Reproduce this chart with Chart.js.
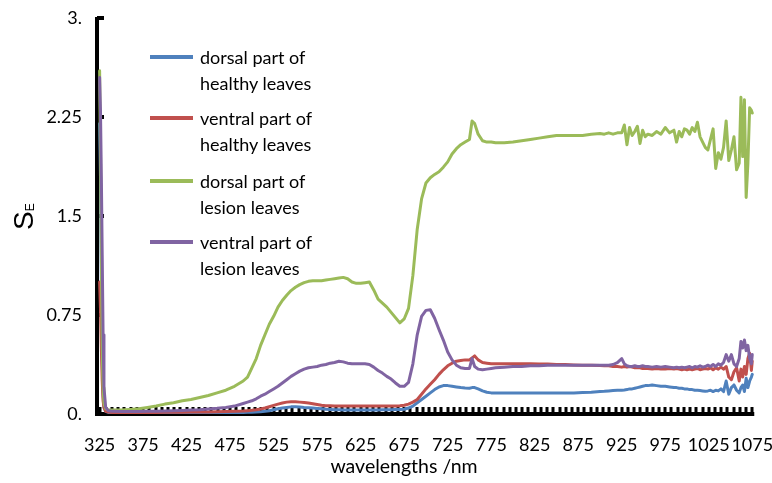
<!DOCTYPE html>
<html>
<head>
<meta charset="utf-8">
<script src="https://cdn.jsdelivr.net/npm/chart.js@4"></script>
<style>
html,body{margin:0;padding:0;background:#fff;}
#wrap{position:relative;width:772px;height:483px;}
#legend{position:absolute;left:0;top:0;font-family:Lato,"Open Sans",sans-serif;font-size:18px;color:#000;}
.li{position:absolute;left:150px;}
.sw{position:absolute;left:0;width:43px;height:4px;}
.tx{position:absolute;left:50px;white-space:nowrap;line-height:26px;}
</style>
</head>
<body>
<div id="wrap">
<canvas id="c" width="772" height="483"></canvas>
<div id="legend"></div>
</div>
<script>
const wavelengths = [325,326,327,328,329,330,332,335,340,350,360,370,380,390,400,410,420,430,440,450,460,470,480,490,495,500,505,510,515,520,525,530,535,540,545,550,555,560,565,570,575,580,585,590,595,600,605,610,615,620,625,630,635,640,645,650,655,660,665,670,675,680,685,690,695,700,705,710,715,720,725,730,735,740,745,750,753,756,760,765,770,775,780,790,800,810,820,830,840,850,860,870,880,890,900,905,910,915,920,925,928,931,934,937,940,943,946,949,952,955,960,965,970,975,980,985,988,991,994,997,1000,1003,1006,1009,1012,1015,1018,1021,1024,1027,1030,1033,1036,1039,1042,1045,1048,1051,1054,1057,1060,1062,1064,1066,1068,1070,1072,1074,1075];

const dorsalHealthy = [2.2,1.8,1.0,0.4,0.15,0.05,0.02,0.012,0.01,0.01,0.01,0.01,0.01,0.01,0.01,0.01,0.01,0.01,0.01,0.01,0.01,0.01,0.011,0.012,0.013,0.014,0.015,0.017,0.02,0.025,0.032,0.04,0.045,0.05,0.054,0.055,0.053,0.05,0.048,0.045,0.042,0.039,0.036,0.035,0.033,0.032,0.031,0.03,0.03,0.03,0.03,0.03,0.03,0.03,0.031,0.032,0.032,0.033,0.034,0.035,0.036,0.045,0.06,0.085,0.11,0.135,0.16,0.185,0.205,0.215,0.215,0.21,0.205,0.2,0.197,0.195,0.2,0.2,0.19,0.175,0.165,0.16,0.16,0.16,0.16,0.16,0.16,0.16,0.16,0.16,0.16,0.16,0.162,0.165,0.17,0.172,0.175,0.178,0.18,0.18,0.182,0.185,0.19,0.19,0.195,0.2,0.205,0.21,0.215,0.215,0.22,0.215,0.21,0.21,0.205,0.2,0.2,0.195,0.195,0.19,0.19,0.185,0.185,0.18,0.18,0.178,0.175,0.172,0.175,0.18,0.17,0.18,0.175,0.19,0.17,0.25,0.15,0.2,0.22,0.18,0.16,0.2,0.22,0.17,0.27,0.2,0.25,0.28,0.3];

const ventralHealthy = [1.0,0.8,0.5,0.25,0.1,0.05,0.02,0.015,0.012,0.012,0.012,0.012,0.012,0.012,0.013,0.013,0.014,0.015,0.015,0.016,0.017,0.018,0.02,0.022,0.025,0.028,0.032,0.038,0.045,0.055,0.065,0.075,0.083,0.09,0.093,0.093,0.09,0.087,0.083,0.078,0.072,0.066,0.063,0.062,0.061,0.06,0.06,0.06,0.06,0.06,0.06,0.06,0.06,0.06,0.06,0.06,0.06,0.06,0.061,0.063,0.066,0.075,0.09,0.11,0.15,0.19,0.225,0.26,0.3,0.335,0.365,0.385,0.4,0.405,0.41,0.41,0.425,0.44,0.41,0.39,0.385,0.38,0.38,0.38,0.38,0.38,0.38,0.378,0.378,0.375,0.375,0.372,0.37,0.37,0.368,0.366,0.365,0.36,0.36,0.355,0.36,0.355,0.36,0.355,0.35,0.35,0.35,0.345,0.345,0.345,0.34,0.345,0.34,0.34,0.345,0.34,0.345,0.34,0.335,0.34,0.335,0.34,0.335,0.34,0.345,0.335,0.34,0.345,0.34,0.35,0.335,0.35,0.34,0.355,0.34,0.36,0.28,0.26,0.32,0.35,0.25,0.34,0.28,0.36,0.3,0.42,0.46,0.33,0.4];

const dorsalLesion = [2.6,2.0,1.2,0.5,0.2,0.08,0.04,0.03,0.03,0.03,0.035,0.04,0.05,0.06,0.075,0.085,0.1,0.11,0.125,0.14,0.16,0.18,0.21,0.25,0.28,0.35,0.42,0.52,0.6,0.68,0.74,0.81,0.86,0.9,0.935,0.96,0.98,0.995,1.005,1.01,1.01,1.01,1.015,1.02,1.025,1.03,1.035,1.025,1.0,0.99,0.99,0.995,1.0,0.94,0.87,0.84,0.81,0.77,0.73,0.69,0.72,0.8,1.05,1.4,1.63,1.75,1.79,1.815,1.835,1.87,1.91,1.97,2.01,2.04,2.06,2.08,2.22,2.2,2.12,2.07,2.06,2.06,2.055,2.055,2.06,2.07,2.08,2.09,2.1,2.11,2.11,2.11,2.11,2.12,2.125,2.12,2.13,2.12,2.13,2.13,2.19,2.04,2.17,2.11,2.14,2.18,2.05,2.15,2.1,2.12,2.11,2.14,2.12,2.17,2.13,2.15,2.06,2.14,2.1,2.16,2.15,2.12,2.17,2.14,2.21,2.1,2.06,2.02,2.0,2.08,2.16,1.86,1.98,1.93,2.02,2.22,1.92,2.0,2.1,1.85,1.9,2.4,1.95,2.38,1.64,1.9,2.32,2.3,2.28];

const ventralLesion = [2.55,2.3,1.8,1.2,0.6,0.2,0.05,0.025,0.02,0.018,0.018,0.018,0.02,0.02,0.022,0.025,0.027,0.03,0.033,0.038,0.043,0.05,0.06,0.08,0.09,0.1,0.115,0.135,0.15,0.17,0.19,0.21,0.235,0.26,0.285,0.305,0.325,0.34,0.35,0.355,0.36,0.37,0.375,0.385,0.39,0.4,0.395,0.385,0.38,0.38,0.38,0.38,0.375,0.355,0.33,0.31,0.285,0.265,0.235,0.21,0.21,0.24,0.38,0.6,0.74,0.785,0.79,0.725,0.64,0.56,0.47,0.41,0.37,0.35,0.345,0.345,0.42,0.36,0.34,0.335,0.34,0.345,0.35,0.355,0.36,0.36,0.365,0.365,0.37,0.37,0.37,0.37,0.37,0.37,0.37,0.37,0.37,0.375,0.39,0.42,0.38,0.365,0.36,0.36,0.365,0.36,0.36,0.365,0.36,0.36,0.355,0.36,0.355,0.36,0.355,0.35,0.355,0.35,0.355,0.35,0.355,0.36,0.35,0.36,0.355,0.365,0.355,0.36,0.37,0.36,0.375,0.36,0.38,0.37,0.39,0.45,0.4,0.45,0.38,0.36,0.42,0.55,0.5,0.56,0.48,0.52,0.42,0.38,0.45];

const seriesNames = [["dorsal part of","healthy leaves"],["ventral part of","healthy leaves"],["dorsal part of","lesion leaves"],["ventral part of","lesion leaves"]];
const seriesColors = ["#4F81BD","#C0504D","#9BBB59","#8064A2"];
const xTickLabels = ["325","375","425","475","525","575","625","675","725","775","825","875","925","975","1025","1075"];
const yTickValues = [0,0.75,1.5,2.25,3];
const yTickLabels = ["0.","0.75","1.5","2.25","3."];
const xTitle = "wavelengths /nm";
const yTitleMain = "S";
const yTitleSub = "E";

const seriesValues = [dorsalHealthy, ventralHealthy, dorsalLesion, ventralLesion];
const drawOrder = [3,2,1,0];
const datasets = seriesValues.map((vals,i)=>({
  label: seriesNames[i].join(' '),
  data: wavelengths.map((w,j)=>({x:w,y:vals[j]})),
  borderColor: seriesColors[i],
  backgroundColor: seriesColors[i],
  borderWidth: 3,
  pointRadius: 0,
  tension: 0,
  fill: false,
  order: drawOrder[i],
  borderJoinStyle: 'round',
  borderCapStyle: 'round'
}));

const TICK_FONT = {family: 'Lato', size: 18};
const xMinorTicks = [];
for (let i = 0; i <= 105; i++) xMinorTicks.push(325 + i*50/7);

const axisPlugin = {
  id: 'axes',
  beforeDatasetsDraw(chart){
    const ctx = chart.ctx;
    const a = chart.chartArea;
    const xs = chart.scales.x, ys = chart.scales.y;
    ctx.save();
    ctx.fillStyle = '#000';
    xMinorTicks.forEach(v => {
      const px = xs.getPixelForValue(v);
      ctx.fillRect(Math.round(px) - 1.5, a.bottom - 7, 3, 7);
    });
    yTickValues.forEach(v => {
      const py = ys.getPixelForValue(v);
      ctx.fillRect(a.left, Math.round(py) - 2, 7, 4);
    });
    ctx.fillRect(a.left - 2, a.top - 1, 4, a.bottom - a.top + 3);
    ctx.fillRect(a.left - 2, a.bottom - 2, xs.getPixelForValue(1075) - a.left + 4, 4);
    ctx.restore();
  },
  afterDraw(chart){
    const ctx = chart.ctx;
    ctx.save();
    ctx.fillStyle = '#000';
    ctx.font = '19.5px Lato';
    ctx.textAlign = 'center';
    ctx.textBaseline = 'middle';
    ctx.fillText(xTitle, 404, 467);
    ctx.translate(33, 230);
    ctx.rotate(-Math.PI/2);
    ctx.textAlign = 'left';
    ctx.textBaseline = 'alphabetic';
    ctx.font = '28px "Liberation Sans"';
    ctx.fillText(yTitleMain, 0, 0);
    const w = ctx.measureText(yTitleMain).width;
    ctx.font = '12px "Liberation Sans"';
    ctx.fillText(yTitleSub, w, 1);
    ctx.restore();
  }
};

new Chart(document.getElementById('c'), {
  type: 'line',
  data: {datasets},
  options: {
    responsive: false,
    animation: false,
    layout: {padding: {left: 0, right: 18, top: 18, bottom: 0}},
    plugins: {legend: {display: false}, tooltip: {enabled: false}},
    scales: {
      x: {
        type: 'linear',
        min: 322,
        max: 1077,
        afterBuildTicks(scale){
          scale.ticks = xTickLabels.map(s => ({value: Number(s)}));
        },
        afterFit(scale){ scale.height = 69; scale.paddingLeft = 0; scale.paddingRight = 0; },
        ticks: {
          autoSkip: false,
          maxRotation: 0,
          padding: 20,
          color: '#000',
          font: TICK_FONT,
          callback: (v, i) => xTickLabels[i]
        },
        grid: {display: false, drawTicks: false},
        border: {display: false}
      },
      y: {
        type: 'linear',
        min: 0,
        max: 3,
        afterBuildTicks(scale){ scale.ticks = yTickValues.map(v=>({value:v})); },
        afterFit(scale){ scale.width = 97; scale.paddingTop = 0; scale.paddingBottom = 0; },
        ticks: {
          padding: 15,
          color: '#000',
          font: TICK_FONT,
          callback: (v, i) => yTickLabels[i]
        },
        grid: {display: false, drawTicks: false},
        border: {display: false}
      }
    }
  },
  plugins: [axisPlugin]
});

const legend = document.getElementById('legend');
const legendTops = [57, 118, 181, 242];
seriesNames.forEach((lines, i) => {
  const item = document.createElement('div');
  item.className = 'li';
  item.style.top = legendTops[i] + 'px';
  const sw = document.createElement('div');
  sw.className = 'sw';
  sw.style.background = seriesColors[i];
  sw.style.top = '-2px';
  item.appendChild(sw);
  const tx = document.createElement('div');
  tx.className = 'tx';
  tx.style.top = '-13px';
  tx.innerHTML = lines.join('<br>');
  item.appendChild(tx);
  legend.appendChild(item);
});
</script>
</body>
</html>
